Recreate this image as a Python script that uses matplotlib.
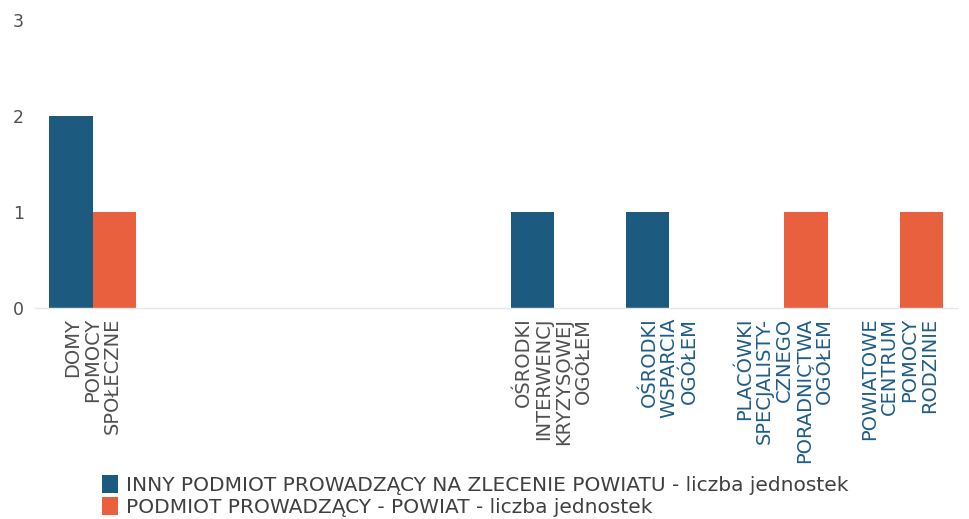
import matplotlib
matplotlib.use("Agg")
import matplotlib.pyplot as plt
import numpy as np
from matplotlib.patches import Patch

categories = [
    "DOMY\nPOMOCY\nSPOŁECZNE",
    "",
    "",
    "",
    "OŚRODKI\nINTERWENCJ\nKRYZYSOWEJ\nOGÓŁEM",
    "OŚRODKI\nWSPARCIA\nOGÓŁEM",
    "PLACÓWKI\nSPECJALISTY-\nCZNEGO\nPORADNICTWA\nOGÓŁEM",
    "POWIATOWE\nCENTRUM\nPOMOCY\nRODZINIE",
]
inny = [2, 0, 0, 0, 1, 1, 0, 0]
powiat = [1, 0, 0, 0, 0, 0, 1, 1]
series_names = [
    "INNY PODMIOT PROWADZĄCY NA ZLECENIE POWIATU - liczba jednostek",
    "PODMIOT PROWADZĄCY - POWIAT - liczba jednostek",
]
label_colors = ["#505050", "#505050", "#505050", "#505050", "#505050",
                "#1f5c87", "#1f5c87", "#1f5c87"]
yticks = [0, 1, 2, 3]

plt.rcParams['font.family'] = ['DejaVu Sans']

BLUE = "#1d5a7f"
RED = "#e8603e"

fig = plt.figure(figsize=(9.69, 5.19), dpi=100)
ax = fig.add_axes([0.036, 0.4066, 0.952, 0.555])

x = np.arange(len(categories))
w = 0.375
ax.bar(x - w / 2, inny, width=w, color=BLUE, label=series_names[0])
ax.bar(x + w / 2, powiat, width=w, color=RED, label=series_names[1])

ax.set_xlim(-0.5, len(categories) - 0.5)
ax.set_ylim(0, 3)
ax.set_yticks(yticks)
ax.set_yticklabels([str(v) for v in yticks], fontsize=12.5, color="#505050")
ax.tick_params(axis='y', length=0, pad=8)
ax.tick_params(axis='x', length=0, pad=7)
ax.set_xticks(x)
ax.set_xticklabels(categories, rotation=90, fontsize=14, ha='center', va='top',
                   multialignment='right', linespacing=1.07)
for lbl, c in zip(ax.get_xticklabels(), label_colors):
    lbl.set_color(c)

for s in ['top', 'right', 'left']:
    ax.spines[s].set_visible(False)
ax.spines['bottom'].set_color("#e6e6e6")
ax.spines['bottom'].set_linewidth(1)

handles = [Patch(facecolor=BLUE, label=series_names[0]),
           Patch(facecolor=RED, label=series_names[1])]
fig.legend(handles=handles, loc='upper left', bbox_to_anchor=(0.105, 0.085),
           frameon=False, fontsize=14.5, handlelength=0.82, handleheight=1.0,
           handletextpad=0.38, labelspacing=0.1, borderaxespad=0, borderpad=0,
           labelcolor="#404040")

fig.savefig("out.png", dpi=100, facecolor="white")
